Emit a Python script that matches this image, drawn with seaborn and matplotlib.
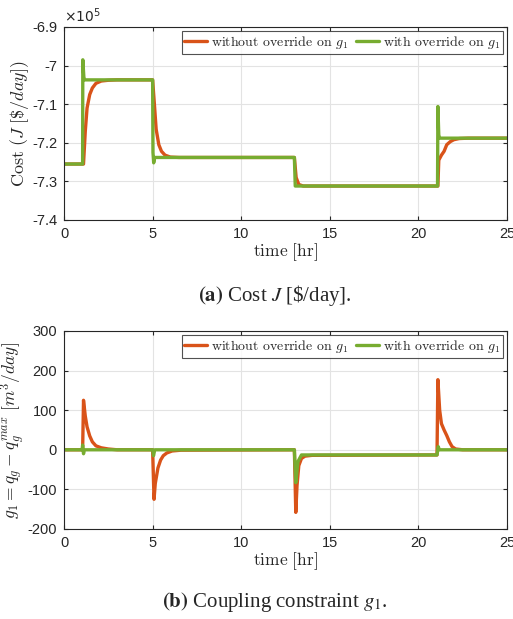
import matplotlib
matplotlib.use("Agg")
import matplotlib.pyplot as plt
import pandas as pd
import seaborn as sns
from matplotlib.ticker import FuncFormatter

# ---- data (time in hr) ----
# (a) cost J, in units of 1e5 $/day
t_cost_wo = [0, 1.1, 1.2, 1.3, 1.45, 1.6, 1.8, 2.1, 2.5, 3.0, 5.0, 5.1, 5.2, 5.35, 5.5,
             5.7, 6.0, 6.5, 13.0, 13.1, 13.25, 13.5, 21.1, 21.15, 21.3, 21.45, 21.6,
             21.8, 22.0, 22.3, 22.8, 25]
cost_wo = [-7.255, -7.255, -7.17, -7.11, -7.075, -7.058, -7.046, -7.040, -7.038, -7.037,
           -7.037, -7.10, -7.165, -7.205, -7.222, -7.232, -7.237, -7.238, -7.238, -7.29,
           -7.308, -7.312, -7.312, -7.245, -7.232, -7.222, -7.205, -7.197, -7.192,
           -7.189, -7.188, -7.188]

t_cost_w = [0, 1.05, 1.06, 1.12, 1.16, 5.0, 5.02, 5.06, 5.12, 13.0, 13.05, 21.08, 21.1,
            21.15, 21.2, 25]
cost_w = [-7.255, -7.255, -6.985, -7.03, -7.037, -7.037, -7.225, -7.252, -7.238, -7.238,
          -7.312, -7.312, -7.106, -7.18, -7.188, -7.188]

# (b) coupling constraint g1, m^3/day
t_g_wo = [0, 1.05, 1.1, 1.2, 1.3, 1.45, 1.6, 1.8, 2.1, 2.5, 3.0, 5.0, 5.08, 5.15, 5.3,
          5.45, 5.6, 5.8, 6.1, 6.6, 13.0, 13.08, 13.15, 13.25, 13.4, 13.6, 14.0, 21.05,
          21.1, 21.2, 21.3, 21.45, 21.6, 21.75, 21.9, 22.1, 22.5, 25]
g_wo = [0, 0, 125, 85, 58, 35, 20, 10, 5, 2, 0, 0, -125, -85, -46, -26, -15, -8, -3, -1,
        0, -158, -90, -40, -22, -16, -14, -13, 177, 100, 66, 50, 36, 20, 8, 2, 0, 0]

t_g_w = [0, 1.02, 1.05, 1.1, 1.15, 5.0, 5.05, 5.12, 13.0, 13.08, 13.2, 13.4, 21.05,
         21.12, 21.18, 25]
g_w = [0, 0, 12, -10, 0, 0, -15, 0, 0, -83, -30, -13, -13, 8, 0, 0]

lab_wo = r"without override on $g_1$"
lab_w = r"with override on $g_1$"
colors = {lab_wo: "#D95319", lab_w: "#77AC30"}


def long_df(t1, y1, t2, y2):
    return pd.concat([
        pd.DataFrame({"t": t1, "y": y1, "case": lab_wo}),
        pd.DataFrame({"t": t2, "y": y2, "case": lab_w}),
    ], ignore_index=True)


sns.set_theme(style="ticks")
plt.rcParams.update({
    "font.family": ["Liberation Sans", "DejaVu Sans"],
    "mathtext.fontset": "cm",
    "axes.unicode_minus": False,
    "axes.edgecolor": "#262626",
    "xtick.color": "#262626",
    "ytick.color": "#262626",
})

fig = plt.figure(figsize=(5.13, 6.19), dpi=100)
ax1 = fig.add_axes([0.1248, 0.6446, 0.8635, 0.3118])
ax2 = fig.add_axes([0.1248, 0.1454, 0.8635, 0.3199])

panels = [
    (ax1, long_df(t_cost_wo, cost_wo, t_cost_w, cost_w), (-7.4, -6.9),
     [-7.4, -7.3, -7.2, -7.1, -7.0, -6.9], r"$\mathrm{Cost}\ (J\ [\$/day])$", 13),
    (ax2, long_df(t_g_wo, g_wo, t_g_w, g_w), (-200, 300),
     [-200, -100, 0, 100, 200, 300], r"$g_1 = q_g - q_g^{max}\ [m^3/day]$", 12.5),
]

for ax, df, ylim, yticks, ylab, ysize in panels:
    sns.lineplot(data=df, x="t", y="y", hue="case", palette=colors, estimator=None,
                 sort=False, linewidth=2.4, ax=ax)
    ax.set_xlim(0, 25)
    ax.set_ylim(*ylim)
    ax.set_xticks([0, 5, 10, 15, 20, 25])
    ax.set_yticks(yticks)
    ax.yaxis.set_major_formatter(FuncFormatter(lambda v, p: "%g" % round(v, 3)))
    ax.grid(True, color="#e3e3e3", linewidth=0.8)
    ax.set_axisbelow(True)
    ax.tick_params(direction="in", top=True, right=True, length=3, width=0.8,
                   labelsize=10.5, pad=5)
    for s in ax.spines.values():
        s.set_linewidth(0.8)
    ax.set_xlabel(r"$\mathrm{time}\ [\mathrm{hr}]$", fontsize=12.5, labelpad=0)
    ax.set_ylabel(ylab, fontsize=ysize, labelpad=1)
    leg = ax.legend(loc="upper right", ncol=2, fontsize=10, frameon=True, fancybox=False,
                    edgecolor="#262626", handlelength=1.6, handletextpad=0.3,
                    columnspacing=0.6, borderpad=0.2, borderaxespad=0.3)
    leg.get_frame().set_linewidth(0.8)
    for txt in leg.get_texts():
        txt.set_fontfamily("cmr10")

ax1.text(0.0, 1.012, r"$\times 10^5$", transform=ax1.transAxes, fontsize=10,
         math_fontfamily="dejavusans", color="#262626", va="bottom")

fig.text(0.535, 0.522, r"$\mathbf{(a)}$ Cost $J$ [\$/day].", ha="center", va="center",
         fontsize=15, fontfamily="Liberation Serif", math_fontfamily="stix")
fig.text(0.535, 0.027, r"$\mathbf{(b)}$ Coupling constraint $g_1$.", ha="center",
         va="center", fontsize=15, fontfamily="Liberation Serif", math_fontfamily="stix")

fig.savefig("out.png", dpi=100)
